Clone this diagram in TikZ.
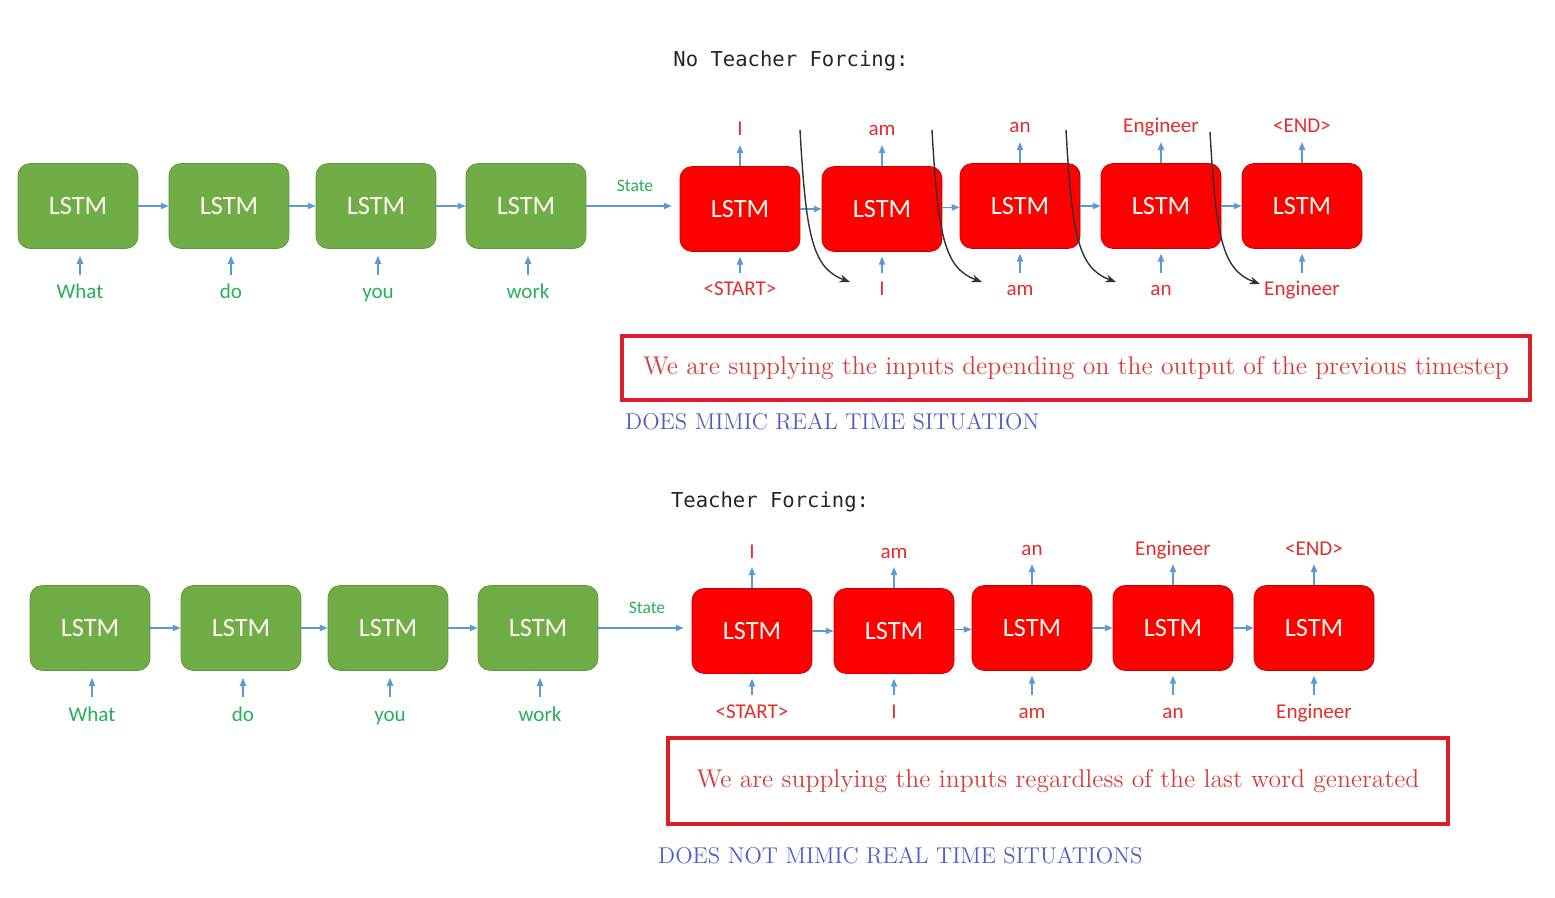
\documentclass[tikz,border=0pt]{standalone}
\usepackage{fontspec}
\newfontfamily\calibri{Carlito}
\setmonofont{DejaVu Sans Mono}
\usetikzlibrary{arrows.meta,calc,positioning}

\definecolor{encgreen}{HTML}{70AD47}
\definecolor{decred}{HTML}{FF0000}
\definecolor{flowblue}{HTML}{5B9BD5}
\definecolor{labgreen}{RGB}{40,175,90}
\definecolor{labred}{RGB}{228,45,45}
\definecolor{framered}{RGB}{220,30,40}
\definecolor{notered}{RGB}{215,60,60}
\definecolor{verdictblue}{RGB}{80,90,200}

\tikzset{
    enc/.style={fill=encgreen, draw=encgreen!85!black, rounded corners=0.24cm,
        minimum width=2.4cm, minimum height=1.7cm, text=white!94!yellow,
        font=\calibri\fontsize{15}{18}\selectfont},
    dec/.style={enc, fill=decred, draw=decred!75!black},
    enclab/.style={text=labgreen, font=\calibri\fontsize{12}{14}\selectfont,
        anchor=base, inner sep=0pt, text height=9pt, text depth=2.5pt},
    declab/.style={enclab, text=labred},
    statelab/.style={text=labgreen, font=\calibri\fontsize{10}{12}\selectfont},
    flow/.style={-{Triangle[length=4.5pt,width=3.6pt]}, flowblue, line width=0.6pt},
    feed/.style={-{Stealth[length=6pt,width=4.5pt]}, black!80, line width=0.8pt},
    title/.style={font=\ttfamily\fontsize{11.7}{14}\selectfont, text=black!85},
    note/.style={draw=framered, line width=2.3pt, text=notered,
        font=\fontsize{14.6}{17}\selectfont},
    verdict/.style={anchor=west, text=verdictblue, font=\fontsize{13}{15}\selectfont}
}

\begin{document}
\begin{tikzpicture}[x=0.02cm, y=-0.02cm]
    \useasboundingbox (0,0) rectangle (1555,898);

    % no teacher forcing
    \node[title] (ntf) at (791,61) {No Teacher Forcing:};

    \foreach \i/\x/\w in {1/78/What, 2/229/do, 3/376/you, 4/526/work} {
        \node[enc] (ta\i) at (\x,206) {LSTM};
        \node[enclab] (tw\i) at (\x+2,299) {\w};
        \draw[flow, shorten <=4.5pt, shorten >=4pt] (tw\i.north) -- (tw\i.north |- ta\i.south);
    }
    \foreach \i/\j in {1/2, 2/3, 3/4}
        \draw[flow] (ta\i) -- (ta\j);

    \foreach \i/\x/\y/\o/\w in {1/740/209/I/<START>, 2/882/209/am/I, 3/1020/206/an/am,
                               4/1161/206/Engineer/an, 5/1302/206/<END>/Engineer} {
        \node[dec] (tr\i) at (\x,\y) {LSTM};
        \node[declab] (to\i) at (\x,\y-73) {\o};
        \node[declab] (ti\i) at (\x,296) {\w};
        \draw[flow, shorten >=2.5pt] (tr\i.north) -- (to\i.south);
        \draw[flow, shorten <=4pt, shorten >=2.8pt] (ti\i.north) -- (tr\i.south);
    }
    \foreach \i/\j in {1/2, 2/3, 3/4, 4/5}
        \draw[flow] (tr\i) -- (tr\j);

    \node[statelab] (ts) at (635,186) {State};
    \draw[flow, shorten >=4.5pt] (ta4) -- (ta4 -| tr1.west);

    \foreach \x/\y in {800/130, 932/130, 1066/130, 1210/132}
        \draw[feed] (\x,\y) .. controls (\x+6,\y+105) and (\x+12,\y+138) .. (\x+50,\y+152);

    \node[note, minimum width=18.16cm, minimum height=1.28cm] (tn) at (1076,368)
        {We are supplying the inputs depending on the output of the previous timestep};
    \node[verdict] (tv) at (619,422) {DOES MIMIC REAL TIME SITUATION};

    % teacher forcing
    \node[title] (tf) at (770,502) {Teacher Forcing:};

    \begin{scope}[shift={(12,422)}]
        \foreach \i/\x/\w in {1/78/What, 2/229/do, 3/376/you, 4/526/work} {
            \node[enc] (ba\i) at (\x,206) {LSTM};
            \node[enclab] (bw\i) at (\x+2,299) {\w};
            \draw[flow, shorten <=4.5pt, shorten >=4pt] (bw\i.north) -- (bw\i.north |- ba\i.south);
        }
        \foreach \i/\j in {1/2, 2/3, 3/4}
            \draw[flow] (ba\i) -- (ba\j);

        \foreach \i/\x/\y/\o/\w in {1/740/209/I/<START>, 2/882/209/am/I, 3/1020/206/an/am,
                                   4/1161/206/Engineer/an, 5/1302/206/<END>/Engineer} {
            \node[dec] (br\i) at (\x,\y) {LSTM};
            \node[declab] (bo\i) at (\x,\y-73) {\o};
            \node[declab] (bi\i) at (\x,296) {\w};
            \draw[flow, shorten >=2.5pt] (br\i.north) -- (bo\i.south);
            \draw[flow, shorten <=4pt, shorten >=2.8pt] (bi\i.north) -- (br\i.south);
        }
        \foreach \i/\j in {1/2, 2/3, 3/4, 4/5}
            \draw[flow] (br\i) -- (br\j);

        \node[statelab] (bs) at (635,186) {State};
        \draw[flow, shorten >=4.5pt] (ba4) -- (ba4 -| br1.west);
    \end{scope}

    \node[note, minimum width=15.62cm, minimum height=1.72cm] (bn) at (1058,781)
        {We are supplying the inputs regardless of the last word generated};
    \node[verdict] (bv) at (652,856) {DOES NOT MIMIC REAL TIME SITUATIONS};
\end{tikzpicture}
\end{document}
